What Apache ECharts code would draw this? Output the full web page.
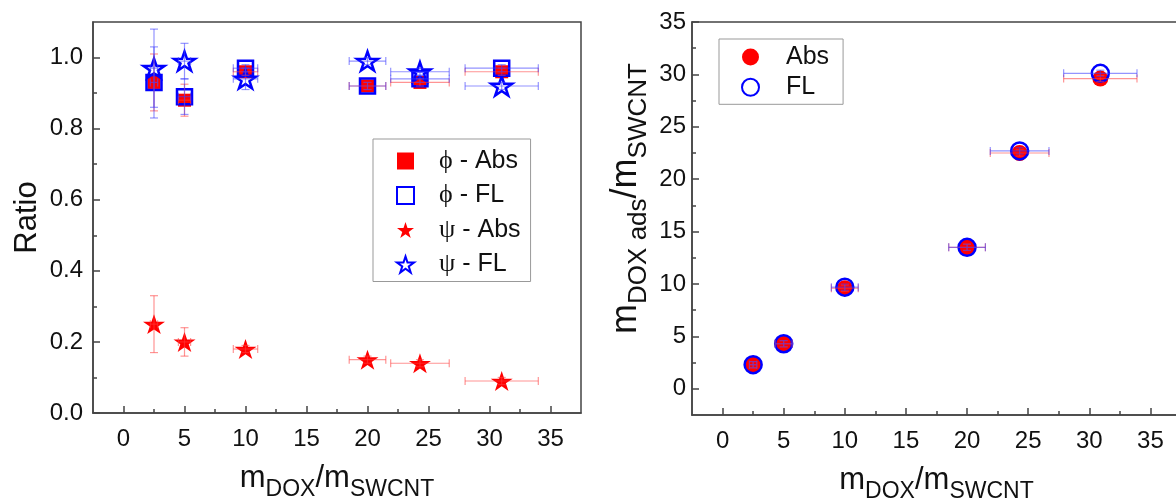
<!DOCTYPE html>
<html><head><meta charset="utf-8">
<script src="https://cdn.jsdelivr.net/npm/echarts@6/dist/echarts.min.js"></script>
<style>html,body{margin:0;padding:0;background:#fff}#c{width:1176px;height:502px}</style>
</head><body><div id="c"></div>
<script>
// ---- Left panel: ratios ----
const ratioX     = [2.5, 5, 10, 20, 24.3, 31];
const ratioXErr  = [0.3, 0.5, 1.0, 1.5, 2.4, 3.0];
const phiAbs     = [0.93, 0.88, 0.96, 0.92, 0.93, 0.96];
const phiAbsErr  = [0.08, 0.045, 0.01, 0.01, 0.01, 0.01];
const phiFL      = [0.93, 0.89, 0.97, 0.92, 0.94, 0.97];
const phiFLErr   = [0.10, 0.05, 0.01, 0.01, 0.01, 0.01];
const psiAbs     = [0.25, 0.20, 0.18, 0.15, 0.14, 0.09];
const psiAbsErr  = [0.08, 0.04, 0.01, 0.01, 0.01, 0.01];
const psiFL      = [0.97, 0.99, 0.94, 0.99, 0.96, 0.92];
const psiFLErr   = [0.11, 0.05, 0.03, 0.01, 0.01, 0.01];
// ---- Right panel: adsorbed mass ratio ----
const adsX       = [2.5, 5, 10, 20, 24.3, 30.9];
const adsXErr    = [0.3, 0.7, 1.1, 1.5, 2.4, 3.0];
const adsAbs     = [2.3, 4.3, 9.6, 13.5, 22.5, 29.6];
const adsAbsErr  = [0.3, 0.3, 0.3, 0.3, 0.3, 0.3];
const adsFL      = [2.3, 4.3, 9.7, 13.5, 22.7, 30.1];
const adsFLErr   = [0.3, 0.3, 0.3, 0.3, 0.3, 0.3];
// ---- ticks ----
const xTicks      = [0, 5, 10, 15, 20, 25, 30, 35];
const xMinorTicks = [2.5, 7.5, 12.5, 17.5, 22.5, 27.5, 32.5];
const ratioTicks  = [0, 0.2, 0.4, 0.6, 0.8, 1.0];
const ratioMinor  = [0.1, 0.3, 0.5, 0.7, 0.9];
const adsTicks    = [0, 5, 10, 15, 20, 25, 30, 35];
const adsMinor    = [2.5, 7.5, 12.5, 17.5, 22.5, 27.5, 32.5];

const FONT = 'Liberation Sans, Arial, sans-serif';
const AX = '#444';
const RED = '#ff0000', BLUE = '#0000ff';
const STAR = 'path://M0,-10L2.245,-3.09L9.511,-3.09L3.633,1.18L5.878,8.09L0,3.82L-5.878,8.09L-3.633,1.18L-9.511,-3.09L-2.245,-3.09Z';

function mainX(grid, min, max) {
  return {
    type: 'value', gridIndex: grid, min: min, max: max,
    axisLine: {show: true, onZero: false, lineStyle: {color: AX, width: 1.5}},
    axisTick: {show: true, inside: true, length: 7, customValues: xTicks, lineStyle: {color: AX, width: 1.5}},
    axisLabel: {customValues: xTicks, margin: 14, fontSize: 24, color: '#111', fontFamily: FONT},
    splitLine: {show: false},
    name: '{m|m}{s|DOX}{m|/m}{s|SWCNT}', nameLocation: 'middle', nameGap: 43,
    nameTextStyle: {fontFamily: FONT, color: '#111', rich: {
      m: {fontSize: 31, fontFamily: FONT, color: '#111'},
      s: {fontSize: 23, fontFamily: FONT, color: '#111', padding: [22, 0, 0, 0]}
    }}
  };
}
function minorAxis(grid, min, max, vals, pos) {
  return {
    type: 'value', gridIndex: grid, min: min, max: max, position: pos, offset: 0,
    axisLine: {show: false, onZero: false},
    axisTick: {show: true, inside: true, length: 4, customValues: vals, lineStyle: {color: AX, width: 1.5}},
    axisLabel: {show: false}, splitLine: {show: false}
  };
}

function errSeries(name, xi, yi, xs, ys, xe, ye, color) {
  return {
    type: 'custom', name: name, xAxisIndex: xi, yAxisIndex: yi, silent: true, z: 5,
    data: xs.map((x, i) => [x, ys[i], xe[i], ye[i]]),
    encode: {x: 0, y: 1},
    renderItem: function (params, api) {
      const x = api.value(0), y = api.value(1), dx = api.value(2), dy = api.value(3);
      const l = api.coord([x - dx, y]), r = api.coord([x + dx, y]);
      const t = api.coord([x, y + dy]), b = api.coord([x, y - dy]);
      const c = 4;
      const st = {stroke: color, lineWidth: 1.2};
      return {type: 'group', children: [
        {type: 'line', shape: {x1: l[0], y1: l[1], x2: r[0], y2: r[1]}, style: st},
        {type: 'line', shape: {x1: l[0], y1: l[1] - c, x2: l[0], y2: l[1] + c}, style: st},
        {type: 'line', shape: {x1: r[0], y1: r[1] - c, x2: r[0], y2: r[1] + c}, style: st},
        {type: 'line', shape: {x1: t[0], y1: t[1], x2: b[0], y2: b[1]}, style: st},
        {type: 'line', shape: {x1: t[0] - c, y1: t[1], x2: t[0] + c, y2: t[1]}, style: st},
        {type: 'line', shape: {x1: b[0] - c, y1: b[1], x2: b[0] + c, y2: b[1]}, style: st}
      ]};
    }
  };
}
const zip = (xs, ys) => xs.map((x, i) => [x, ys[i]]);
const ERR_R = 'rgba(255,60,60,0.55)', ERR_B = 'rgba(60,60,255,0.55)';

const option = {
  animation: false,
  backgroundColor: '#fff',
  grid: [
    {left: 93, right: 595, top: 22, bottom: 89, outerBoundsMode: 'none', containLabel: false,
      show: true, borderColor: AX, borderWidth: 1.5, backgroundColor: 'transparent'},
    {left: 692, right: -5, top: 22, bottom: 87, outerBoundsMode: 'none', containLabel: false,
      show: true, borderColor: AX, borderWidth: 1.5, backgroundColor: 'transparent'}
  ],
  xAxis: [
    mainX(0, -2.5, 37.5),
    minorAxis(0, -2.5, 37.5, xMinorTicks, 'bottom'),
    mainX(1, -2.5, 37.5),
    minorAxis(1, -2.5, 37.5, xMinorTicks, 'bottom')
  ],
  yAxis: [
    {
      type: 'value', gridIndex: 0, min: 0, max: 1.1, position: 'left',
      axisLine: {show: true, onZero: false, lineStyle: {color: AX, width: 1.5}},
      axisTick: {show: true, inside: true, length: 7, customValues: ratioTicks, lineStyle: {color: AX, width: 1.5}},
      axisLabel: {customValues: ratioTicks, margin: 10, fontSize: 24, color: '#111', fontFamily: FONT,
        formatter: v => v.toFixed(1)},
      splitLine: {show: false},
      name: 'Ratio', nameLocation: 'middle', nameGap: 50,
      nameTextStyle: {fontSize: 31, fontFamily: FONT, color: '#111'}
    },
    minorAxis(0, 0, 1.1, ratioMinor, 'left'),
    {
      type: 'value', gridIndex: 1, min: -2.5, max: 35, position: 'left',
      axisLine: {show: true, onZero: false, lineStyle: {color: AX, width: 1.5}},
      axisTick: {show: true, inside: true, length: 7, customValues: adsTicks, lineStyle: {color: AX, width: 1.5}},
      axisLabel: {customValues: adsTicks, margin: 6, fontSize: 24, color: '#111', fontFamily: FONT},
      splitLine: {show: false},
      name: '{m|m}{s|DOX ads}{m|/m}{s|SWCNT}', nameLocation: 'middle', nameGap: 40,
      nameTextStyle: {fontFamily: FONT, color: '#111', padding: [0, 0, 0, 40], rich: {
        m: {fontSize: 36, fontFamily: FONT, color: '#111'},
        s: {fontSize: 26, fontFamily: FONT, color: '#111', padding: [26, 0, 0, 0]}
      }}
    },
    minorAxis(1, -2.5, 35, adsMinor, 'left')
  ],
  legend: [
    {
      data: ['ϕ - Abs', 'ϕ - FL', 'ψ - Abs', 'ψ - FL'],
      orient: 'vertical', left: 373, top: 139,
      itemWidth: 17, itemHeight: 17, itemGap: 8.5,
      padding: [9, 10, 4, 23],
      borderColor: '#999', borderWidth: 1, backgroundColor: '#fff',
      formatter: n => '{g|' + n[0] + '}{t|' + n.slice(1) + '}',
      textStyle: {padding: [0, 0, 0, 20], lineHeight: 26, rich: {
        g: {fontSize: 26, fontFamily: 'Liberation Serif, DejaVu Serif, serif', color: '#111', lineHeight: 26},
        t: {fontSize: 25, fontFamily: FONT, color: '#111', lineHeight: 26}
      }}
    },
    {
      data: ['Abs', 'FL'],
      orient: 'vertical', left: 719, top: 39,
      itemWidth: 17, itemHeight: 17, itemGap: 4.3,
      padding: [5, 14, 4, 22],
      borderColor: '#999', borderWidth: 1, backgroundColor: '#fff',
      textStyle: {fontSize: 25, fontFamily: FONT, color: '#111', lineHeight: 26, padding: [0, 0, 0, 22]}
    }
  ],
  series: [
    {type: 'scatter', name: 'ϕ - Abs', xAxisIndex: 0, yAxisIndex: 0, data: zip(ratioX, phiAbs),
      symbol: 'rect', symbolSize: 13, itemStyle: {color: RED, opacity: 1}, z: 3},
    {type: 'scatter', name: 'ϕ - FL', xAxisIndex: 0, yAxisIndex: 0, data: zip(ratioX, phiFL),
      symbol: 'rect', symbolSize: 15, itemStyle: {color: 'rgba(0,0,0,0)', borderColor: BLUE, borderWidth: 2.5, opacity: 1}, z: 4},
    {type: 'scatter', name: 'ψ - Abs', xAxisIndex: 0, yAxisIndex: 0, data: zip(ratioX, psiAbs),
      symbol: STAR, symbolSize: [22, 21], symbolKeepAspect: true, itemStyle: {color: RED, opacity: 1}, z: 3},
    {type: 'scatter', name: 'ψ - FL', xAxisIndex: 0, yAxisIndex: 0, data: zip(ratioX, psiFL),
      symbol: STAR, symbolSize: [21, 20], symbolKeepAspect: true,
      itemStyle: {color: 'rgba(0,0,0,0)', borderColor: BLUE, borderWidth: 2.5, opacity: 1}, z: 4},
    errSeries('e1', 0, 0, ratioX, phiAbs, ratioXErr, phiAbsErr, ERR_R),
    errSeries('e2', 0, 0, ratioX, phiFL, ratioXErr, phiFLErr, ERR_B),
    errSeries('e3', 0, 0, ratioX, psiAbs, ratioXErr, psiAbsErr, ERR_R),
    errSeries('e4', 0, 0, ratioX, psiFL, ratioXErr, psiFLErr, ERR_B),

    {type: 'scatter', name: 'Abs', xAxisIndex: 2, yAxisIndex: 2, data: zip(adsX, adsAbs),
      symbol: 'circle', symbolSize: 16, itemStyle: {color: RED, opacity: 1}, z: 3},
    {type: 'scatter', name: 'FL', xAxisIndex: 2, yAxisIndex: 2, data: zip(adsX, adsFL),
      symbol: 'circle', symbolSize: 17, itemStyle: {color: 'rgba(0,0,0,0)', borderColor: BLUE, borderWidth: 2.5, opacity: 1}, z: 4},
    errSeries('e5', 2, 2, adsX, adsAbs, adsXErr, adsAbsErr, ERR_R),
    errSeries('e6', 2, 2, adsX, adsFL, adsXErr, adsFLErr, ERR_B)
  ]
};
const chart = echarts.init(document.getElementById('c'), null, {renderer: 'canvas'});
chart.setOption(option);
</script></body></html>
